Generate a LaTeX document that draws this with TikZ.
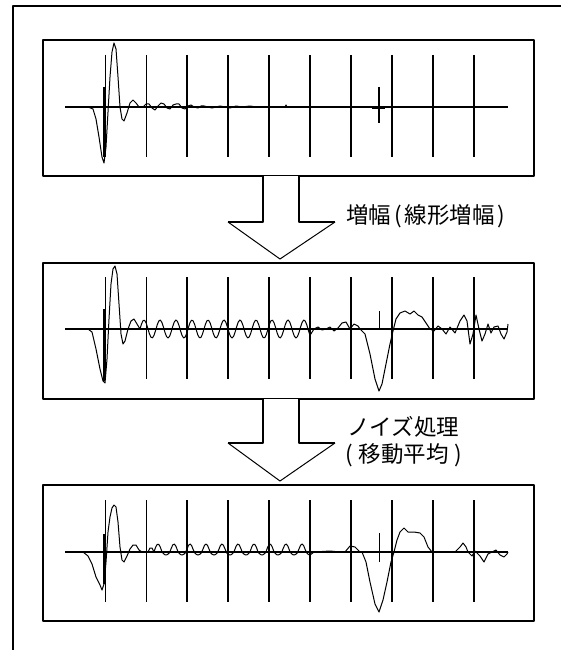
\documentclass[tikz,border=0pt]{standalone}
\usepackage{fontspec}
\newfontfamily\jp{Noto Sans CJK JP}
\begin{document}
\begin{tikzpicture}[x=1pt,y=-1pt,line join=round,
  frame/.style={line width=2pt},
  panel/.style={draw,line width=2pt,minimum width=491pt,minimum height=136pt,inner sep=0pt},
  gridl/.style={line width=1.8pt},
  axisl/.style={line width=1.8pt},
  wave/.style={line width=1pt},
  shaftl/.style={line width=1.8pt},
  headl/.style={line width=1pt},
  lbl/.style={font=\jp\fontsize{22.5pt}{27pt}\selectfont,inner sep=0pt,anchor=west,align=left}]
\useasboundingbox (0,0) rectangle (561,650);
\fill[white] (0,0) rectangle (561,650);
% outer frame
\draw[frame] (13,650) -- (13,6) -- (561,6);
% panels
\node[panel] (p1) at (288.5,108) {};
\node[panel] (p2) at (288.5,331) {};
\node[panel] (p3) at (288.5,552.5) {};
% axes and grid lines
\foreach \ay in {107,329,552}{
  \draw[axisl] (65,\ay) -- (508,\ay);
  \foreach \i in {0,...,9}
    \draw[gridl] ({105.5+40.9*\i},{\ay-52}) -- ({105.5+40.9*\i},{\ay+50});
}
% waveform 1
\begin{scope}[shift={(0,107)}]
\draw[wave] (88,0) -- (93,2) -- (96,12) -- (99,30) -- (102,50) -- (104,56) -- (106,40) -- (108,5) -- (110,-30) -- (112,-55) -- (114,-64) -- (116,-58) -- (118,-30) -- (120,0) -- (122,12) -- (124,14) -- (127,6) -- (130,-4) -- (133,-7) -- (136,-4) -- (139,0) -- (143,0) -- (146,-3) -- (149,-3) -- (152,1) -- (155,3) -- (158,-1) -- (161,-4) -- (164,-3) -- (167,1) -- (170,2) -- (173,-2) -- (176,-3) -- (179,-3) -- (182,1) -- (185,2) -- (188,-1) -- (191,-2) -- (194,0) -- (198,1) -- (201,-1) -- (204,-1) -- (208,0) -- (212,1) -- (216,0) -- (220,-1) -- (225,0) -- (230,1) -- (236,-1) -- (242,0) -- (250,-1) -- (256,0) -- (285,0) -- (286,-2) -- (287,0);
\draw[line width=2.2pt] (104,-20) -- (104,50);
\draw[line width=2pt] (372,1) -- (385,1);
\draw[line width=1.5pt] (379,-20) -- (379,16);
\end{scope}
% waveform 2
\begin{scope}[shift={(0,329)}]
\draw[wave] (88,0) -- (92,3) -- (96,20) -- (100,40) -- (103,52) -- (105,54) -- (107,30) -- (109,-10) -- (111,-45) -- (113,-60) -- (115,-63) -- (117,-55) -- (119,-25) -- (121,5) -- (123,15) -- (125,12) -- (128,0) -- (131,-8) -- (134,-10) -- (137,-5) -- (140,0)
  -- plot[domain=140:310,samples=110] (\x,{-9*sin(22.5*(\x-140))})
  -- (314,0) -- (318,-2) -- (322,1) -- (326,0) -- (330,-2) -- (334,2) -- (338,-1) -- (342,-6) -- (346,-7) -- (350,0) -- (354,-5) -- (358,-3) -- (360,0) -- (365,5) -- (370,25) -- (375,50) -- (379,62) -- (382,55) -- (386,35) -- (390,15) -- (393,2) -- (396,-10) -- (400,-16) -- (405,-18) -- (410,-15) -- (414,-18) -- (418,-14) -- (422,-12) -- (426,-6) -- (430,0) -- (434,2) -- (438,-3) -- (442,0) -- (446,5) -- (450,-2) -- (455,4) -- (460,-8) -- (464,-14) -- (467,-8) -- (470,15) -- (473,5) -- (476,-14) -- (479,0) -- (482,12) -- (485,5) -- (488,-5) -- (491,4) -- (494,-2) -- (498,-3) -- (501,5) -- (504,10) -- (507,3) -- (508,-5);
\draw[line width=2.2pt] (104,-20) -- (104,52);
\draw[wave] (379,-18) -- (379,0);
\end{scope}
% waveform 3
\begin{scope}[shift={(0,552)}]
\draw[wave] (83,0) -- (88,4) -- (92,12) -- (96,25) -- (100,33) -- (102,38) -- (104,32) -- (106,10) -- (108,-20) -- (110,-35) -- (112,-44) -- (114,-47) -- (116,-45) -- (118,-30) -- (120,-5) -- (122,8) -- (124,10) -- (127,4) -- (130,-3) -- (133,-7) -- (136,-7) -- (139,-2) -- (142,0) -- (148,0) -- (150,-4) -- (152,-4) -- (154,0)
  -- plot[domain=154:310,samples=100] (\x,{-8*max(sin(22.5*(\x-154)),0)-3*min(sin(22.5*(\x-154)),0)})
  -- (314,0) -- (330,-1) -- (340,0) -- (345,0) -- (350,-6) -- (355,-5) -- (360,0) -- (362,0) -- (366,10) -- (370,30) -- (375,52) -- (379,60) -- (383,48) -- (387,30) -- (391,10) -- (394,0) -- (397,-12) -- (400,-20) -- (404,-24) -- (408,-20) -- (414,-20) -- (420,-19) -- (424,-15) -- (428,-5) -- (432,0) -- (455,0) -- (460,-5) -- (463,-9) -- (466,-5) -- (468,0) -- (472,4) -- (475,-1) -- (480,4) -- (484,10) -- (488,2) -- (492,0) -- (496,-2) -- (500,3) -- (504,5) -- (507,2) -- (508,0);
\draw[line width=2.2pt] (104,-18) -- (104,32);
\draw[wave] (379,-19) -- (379,10);
\end{scope}
% arrows
\fill[white] (263,176) -- (263,222) -- (228,222) -- (280,259) -- (335,222) -- (299,222) -- (299,176) -- cycle;
\draw[shaftl] (228,222) -- (263,222) -- (263,176);
\draw[shaftl] (335,222) -- (299,222) -- (299,176);
\draw[headl] (228,222) -- (280,259) -- (335,222);
\fill[white] (263,399) -- (263,443) -- (228,443) -- (280,481) -- (335,443) -- (299,443) -- (299,399) -- cycle;
\draw[shaftl] (228,443) -- (263,443) -- (263,399);
\draw[shaftl] (335,443) -- (299,443) -- (299,399);
\draw[headl] (228,443) -- (280,481) -- (335,443);
% labels
\node[lbl] (l1) at (346,216) {増幅\hspace{3pt}(\hspace{3pt}線形増幅\hspace{3pt})};
\node[lbl] (l2) at (345,441.5) {\hspace*{2pt}ノイズ処理\\(\hspace{6pt}移動平均\hspace{6pt})};
\end{tikzpicture}
\end{document}
